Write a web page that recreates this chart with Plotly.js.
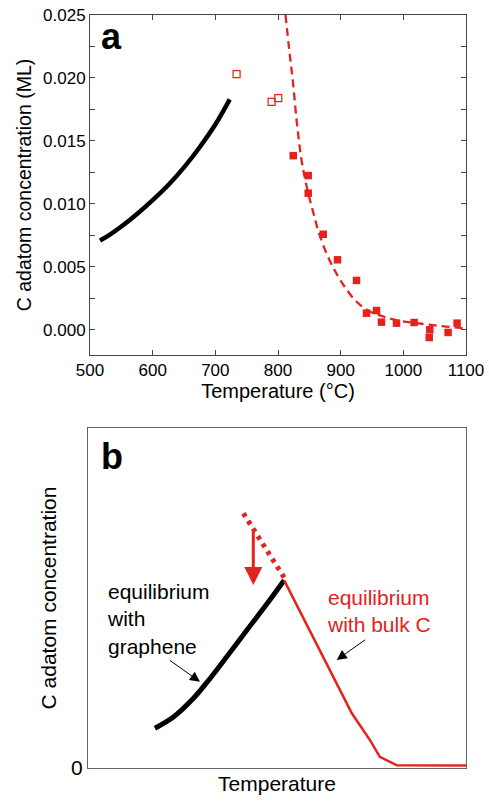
<!DOCTYPE html>
<html>
<head>
<meta charset="utf-8">
<script src="https://cdn.plot.ly/plotly-3.0.1.min.js"></script>
<style>html,body{margin:0;padding:0;background:#fff;}#chart{width:489px;height:802px;}</style>
</head>
<body>
<div id="chart"></div>
<script>
// ---------- Panel a data ----------
var grapheneT = [516, 530, 550, 575, 600, 625, 650, 675, 700, 723];
var grapheneC = [0.0071, 0.0075, 0.0082, 0.0092, 0.0103, 0.0115, 0.0129, 0.0145, 0.0163, 0.0183];

var openT = [733.9, 789.8, 800.4];
var openC = [0.0203, 0.0181, 0.0184];

var filledT = [824.3, 848.2, 848.2, 872.2, 895.0, 925.3, 941.2, 957.2, 965.1, 989.1, 1017.2, 1042.2, 1041.3, 1071.4, 1085.8];
var filledC = [0.01383, 0.01225, 0.01085, 0.00759, 0.00556, 0.00392, 0.00132, 0.00153, 0.00061, 0.00053, 0.00058, 0.0000, -0.00061, -0.00021, 0.00053];

var fitT = [812, 818, 824, 830, 837.5, 844, 851, 858, 864, 878, 893, 908, 925, 945, 968, 995, 1021, 1060, 1095, 1100];
var fitC = [0.0250, 0.0222, 0.0196, 0.0165, 0.0135, 0.0118, 0.0103, 0.0090, 0.0079, 0.0060, 0.0045, 0.0033, 0.00225, 0.0015, 0.00106, 0.0007, 0.00053, 0.0003, 0.00013, 0.0001];

var xTicksA = [500, 600, 700, 800, 900, 1000, 1100];
var yTicksA = [0.000, 0.005, 0.010, 0.015, 0.020, 0.025];
var yTickTextA = ['0.000', '0.005', '0.010', '0.015', '0.020', '0.025'];

// ---------- Panel b data (schematic, arbitrary units) ----------
var bGrapheneX = [0.177, 0.226, 0.279, 0.314, 0.367, 0.420, 0.473, 0.519];
var bGrapheneY = [0.117, 0.150, 0.205, 0.251, 0.327, 0.405, 0.482, 0.552];
var bBulkX = [0.519, 0.698, 0.746, 0.772, 0.817, 1.0];
var bBulkY = [0.552, 0.161, 0.082, 0.033, 0.008, 0.007];
var bDotX = [0.411, 0.519];
var bDotY = [0.749, 0.560];
var yTicksB = [0];
var yTickTextB = ['0'];

var RED = '#e3231c';
var FONT = 'Liberation Sans, Arial, Helvetica, sans-serif';

var traces = [
  {x: grapheneT, y: grapheneC, mode: 'lines', line: {color: '#000', width: 4.5, shape: 'spline'}, xaxis: 'x', yaxis: 'y', hoverinfo: 'skip'},
  {x: fitT, y: fitC, mode: 'lines', line: {color: RED, width: 2.3, dash: '8px,5px', shape: 'spline'}, xaxis: 'x', yaxis: 'y', hoverinfo: 'skip'},
  {x: openT, y: openC, mode: 'markers', marker: {symbol: 'square-open', size: 7, color: RED, line: {width: 1.2, color: RED}}, xaxis: 'x', yaxis: 'y'},
  {x: filledT, y: filledC, mode: 'markers', marker: {symbol: 'square', size: 7.5, color: RED}, xaxis: 'x', yaxis: 'y'},
  {x: bGrapheneX, y: bGrapheneY, mode: 'lines', line: {color: '#000', width: 5, shape: 'spline'}, xaxis: 'x2', yaxis: 'y2'},
  {x: bBulkX, y: bBulkY, mode: 'lines', line: {color: RED, width: 2.5}, xaxis: 'x2', yaxis: 'y2'},
  {x: bDotX, y: bDotY, mode: 'lines', line: {color: RED, width: 5, dash: '4px,5px'}, xaxis: 'x2', yaxis: 'y2'}
];

var W = 489, H = 802;
function px(v){ return v / W; }
function py(v){ return 1 - v / H; }

var layout = {
  width: W, height: H,
  margin: {l: 0, r: 0, t: 0, b: 0},
  paper_bgcolor: '#fff', plot_bgcolor: '#fff',
  showlegend: false,
  font: {family: FONT, color: '#000'},
  xaxis: {
    domain: [px(90), px(466)], anchor: 'y',
    range: [500, 1100], tickvals: xTicksA, ticktext: xTicksA.map(String),
    ticks: 'inside', ticklen: 5, tickcolor: '#444', tickwidth: 1,
    showline: true, linecolor: '#444', linewidth: 1, mirror: 'ticks',
    showgrid: false, zeroline: false,
    tickfont: {size: 17, family: FONT, color: '#000'},
    title: {text: 'Temperature (°C)', font: {size: 20, family: FONT, color: '#000'}, standoff: 0}
  },
  yaxis: {
    domain: [py(355), py(15)], anchor: 'x',
    range: [-0.002, 0.025], tickvals: yTicksA, ticktext: yTickTextA,
    ticks: 'inside', ticklen: 5, tickcolor: '#444', tickwidth: 1,
    minor: {dtick: 0.0025, tick0: 0, ticks: 'inside', ticklen: 5, tickcolor: '#444', showgrid: false},
    showline: true, linecolor: '#444', linewidth: 1, mirror: 'ticks',
    showgrid: false, zeroline: false,
    tickfont: {size: 17, family: FONT, color: '#000'},
    title: {text: 'C adatom concentration (ML)', font: {size: 19.5, family: FONT, color: '#000'}, standoff: 6}
  },
  xaxis2: {
    domain: [px(88), px(466)], anchor: 'y2',
    range: [0, 1], showticklabels: false, ticks: '',
    showline: true, linecolor: '#666', linewidth: 1, mirror: true,
    showgrid: false, zeroline: false,
    title: {text: 'Temperature', font: {size: 21, family: FONT, color: '#000'}, standoff: 8}
  },
  yaxis2: {
    domain: [py(768), py(428)], anchor: 'x2',
    range: [0, 1], tickvals: yTicksB, ticktext: yTickTextB, ticks: '',
    showline: true, linecolor: '#666', linewidth: 1, mirror: true,
    showgrid: false, zeroline: false,
    tickfont: {size: 21, family: FONT, color: '#000'},
    title: {text: 'C adatom concentration', font: {size: 21, family: FONT, color: '#000'}, standoff: 8}
  },
  annotations: [
    {text: '<b>a</b>', xref: 'paper', yref: 'paper', x: px(99), y: py(37), xanchor: 'left', yanchor: 'middle', showarrow: false, font: {size: 36, family: FONT, color: '#000'}},
    {text: '<b>b</b>', xref: 'paper', yref: 'paper', x: px(99), y: py(456), xanchor: 'left', yanchor: 'middle', showarrow: false, font: {size: 36, family: FONT, color: '#000'}},
    {text: 'equilibrium<br>with<br>graphene', xref: 'paper', yref: 'paper', x: px(105), y: py(578), xanchor: 'left', yanchor: 'top', align: 'left', showarrow: false, font: {size: 21, family: FONT, color: '#000'}},
    {text: 'equilibrium<br>with bulk C', xref: 'paper', yref: 'paper', x: px(325), y: py(584), xanchor: 'left', yanchor: 'top', align: 'left', showarrow: false, font: {size: 21, family: FONT, color: RED}},
    // red vertical arrow
    {x: 0.4373, y: 0.538, ax: 0.4373, ay: 0.70, xref: 'x2', yref: 'y2', axref: 'x2', ayref: 'y2', text: '', showarrow: true, arrowhead: 2, arrowsize: 1.2, arrowwidth: 3, arrowcolor: RED},
    // black pointer arrows
    {x: 0.2963, y: 0.2538, ax: 0.2125, ay: 0.3197, xref: 'x2', yref: 'y2', axref: 'x2', ayref: 'y2', text: '', showarrow: true, arrowhead: 2, arrowsize: 2, arrowwidth: 1, arrowcolor: '#000'},
    {x: 0.658, y: 0.318, ax: 0.737, ay: 0.380, xref: 'x2', yref: 'y2', axref: 'x2', ayref: 'y2', text: '', showarrow: true, arrowhead: 2, arrowsize: 2, arrowwidth: 1, arrowcolor: '#000'}
  ]
};

Plotly.newPlot('chart', traces, layout, {staticPlot: true, displayModeBar: false});
</script>
</body>
</html>
